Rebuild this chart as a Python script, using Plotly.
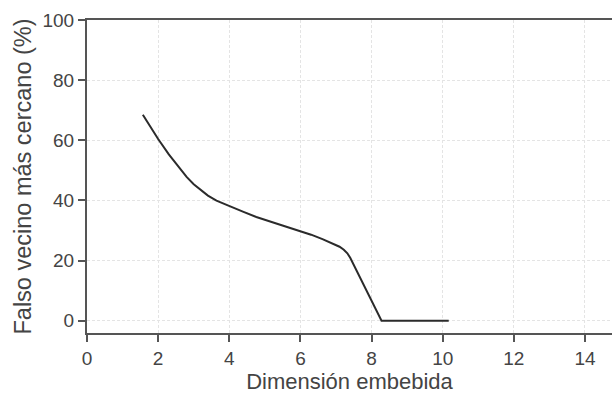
import plotly.graph_objects as go

dims = [1.57, 1.8, 2.0, 2.3, 2.61, 2.8, 3.0, 3.2, 3.4, 3.64, 3.85, 4.01, 4.4, 4.76, 5.3, 5.97, 6.3, 6.62, 6.95, 7.1, 7.22, 7.32, 7.4, 8.28, 9.0, 10.17]
fnn = [68.5, 64.2, 60.4, 55.3, 50.4, 47.8, 45.4, 43.4, 41.6, 39.9, 38.8, 38.1, 36.2, 34.5, 32.4, 29.9, 28.6, 27.1, 25.5, 24.6, 23.6, 22.4, 20.9, 0.0, 0.0, 0.0]
x_ticks = [0, 2, 4, 6, 8, 10, 12, 14]
y_ticks = [0, 20, 40, 60, 80, 100]

fig = go.Figure()
fig.add_trace(go.Scatter(x=dims, y=fnn, mode="lines",
                         line=dict(color="#2b2b2b", width=2),
                         showlegend=False))

axis_common = dict(
    showline=True, linecolor="#555555", linewidth=2,
    ticks="outside", ticklen=7, tickwidth=1.5, tickcolor="#555555",
    showgrid=True, gridcolor="#e4e4e4", griddash="3px,2px", gridwidth=1,
    zeroline=False,
    tickfont=dict(family="Liberation Sans, Arial, sans-serif", size=19, color="#444444"),
)

fig.update_layout(
    width=612, height=394,
    margin=dict(l=87, r=0, t=20, b=61),
    paper_bgcolor="white", plot_bgcolor="white",
    font=dict(family="Liberation Sans, Arial, sans-serif", color="#444444"),
    xaxis=dict(range=[0, 14.76], tickvals=x_ticks, mirror=True,
               title=dict(text="Dimensión embebida", font=dict(size=22, color="#444444"), standoff=5),
               **axis_common),
    yaxis=dict(range=[-4.1, 100], tickvals=y_ticks,
               title=dict(text="Falso vecino más cercano (%)", font=dict(size=23.5, color="#444444"), standoff=4),
               **axis_common),
)

fig.write_html("out.html")
